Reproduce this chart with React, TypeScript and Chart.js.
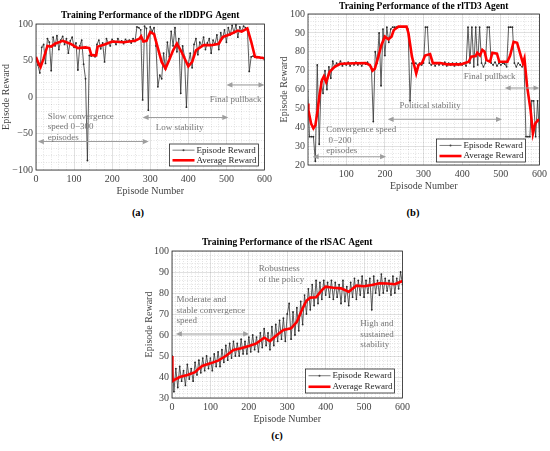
import React, { useEffect, useRef } from "react";
import { Chart, registerables, type ChartConfiguration, type Plugin } from "chart.js";

Chart.register(...registerables);

const SERIF = '"Liberation Serif", "Times New Roman", serif';
const INK = "#262626";
const NOTE = "#777777";
const ARROW = "#9e9e9e";

Chart.defaults.font.family = SERIF;

// raw reward trace is read every 5th episode
const episodes = Array.from({ length: 121 }, (_, i) => i * 5);

const ddpgEpisodeReward = [
  52, 44, 33, 68, 72, 46, 80, 75, 36, 82,
  70, 84, 65, 78, 83, 72, 80, 60, 77, 82,
  68, 74, 37, 70, 78, 45, 25, -87, 57, 56,
  58, 55, 72, 78, 66, 74, 48, 80, 74, 70,
  79, 76, 72, 80, 75, 77, 73, 79, 76, 78,
  74, 80, 76, 96, 95, 92, -4, 97, 94, -18,
  96, 90, 95, 70, 14, 30, 25, 60, 38, 75,
  55, 90, 70, 95, 62, 80, 5, 70, 55, -14,
  45, 60, 40, 72, 80, 58, 75, 70, 82, 65,
  74, 80, 60, 78, 72, 85, 65, 88, 80, 92,
  75, 95, 85, 98, 88, 99, 82, 96, 90, 97,
  95, 93, 35, 55, 56, 55, 54, 55, 53, 54,
  51,
];
const ddpgAvgEpisodes = [
  0, 5, 12, 20, 30, 40, 50, 70, 90, 110, 130, 140, 145, 150, 158, 162, 180, 200, 230, 260,
  272, 276, 282, 290, 300, 310, 320, 330, 340, 350, 360, 370, 380, 390, 400, 410, 420, 440, 460, 480,
  490, 510, 530, 540, 555, 565, 575, 600,
];
const ddpgAvgReward = [
  55, 48, 41, 53, 70, 69, 73, 77, 73, 67, 68, 67, 58, 57, 57, 69, 72, 76, 75, 77,
  80, 83, 76, 77, 89, 86, 67, 48, 39, 51, 64, 73, 64, 53, 42, 48, 64, 71, 71, 73,
  82, 86, 91, 89.5, 94, 76, 55, 53,
];

const td3EpisodeReward = [
  59, 35, 35, 35, 22, 73, 31, 64, 58, 70,
  60, 72, 66, 75, 72, 74, 73, 75, 72.5, 74,
  73, 74.5, 72.5, 74, 73, 74.5, 73, 74, 72.5, 74,
  73.5, 74.5, 73, 72, 43, 80, 74, 90, 62, 92,
  78, 93, 85, 92, 93, 93, 93, 93, 93, 93,
  93, 93, 92, 54, 74, 73, 74, 72.5, 74, 73,
  74, 93, 93, 74, 73, 74, 72.5, 74, 73, 74,
  73, 74.5, 72.5, 74, 73, 74, 72.5, 74, 73, 74,
  73, 74, 72.5, 93, 74, 93, 72, 93, 73, 93,
  74, 72, 74, 93, 93, 74, 73, 74.5, 72.5, 74,
  73, 74, 73.5, 72, 93, 93, 93, 74, 72, 74,
  73, 72, 74, 35, 35, 35, 54, 54, 35, 54,
  35,
];
const td3AvgEpisodes = [
  1, 2, 9, 15, 20, 26, 30, 37, 42, 48, 57, 70, 83, 100, 150, 161, 168, 174, 183, 191,
  200, 209, 217, 223, 235, 256, 261, 270, 278, 281, 287, 296, 304, 317, 324, 343, 361, 396, 417, 423,
  435, 439, 446, 452, 458, 463, 472, 478, 490, 496, 517, 524, 533, 542, 550, 557, 561, 568, 577, 583,
  589, 596, 600,
];
const td3AvgReward = [
  52.6, 49, 42, 39.4, 41, 49, 56, 65, 67, 64, 69.4, 72, 73.5, 73.8, 74, 73, 70, 71, 77.4, 83.6,
  88, 86.6, 88, 91.5, 93.3, 93.3, 89.8, 77.4, 71, 68.5, 73, 74, 78, 78.8, 74, 74, 73.3, 73.3, 74.7, 77.4,
  77.7, 79.5, 78, 81, 80, 75.6, 74.7, 79.5, 79, 74.7, 74.7, 78, 85.3, 84.8, 79, 74, 76.5, 61.5, 49, 36.7,
  42, 43.8, 43.8,
];

const sacEpisodeReward = [
  50, 33, 44, 35, 45, 38, 43, 36, 46, 39,
  44, 38, 47, 41, 48, 42, 49, 43, 50, 44,
  49, 43, 51, 45, 52, 45, 53, 47, 55, 48,
  56, 49, 57, 50, 56, 50, 58, 51, 57, 51,
  59, 52, 60, 53, 59, 52, 61, 54, 63, 55,
  61, 53, 64, 55, 65, 57, 67, 58, 68, 57,
  70, 75, 58, 71, 60, 73, 62, 76, 65, 79,
  70, 82, 72, 84, 74, 86, 75, 85, 77, 86,
  79, 85, 78, 86, 77, 85, 78, 84, 75, 86,
  76, 83, 74, 85, 78, 87, 77, 86, 79, 88,
  78, 86, 80, 87, 72, 88, 80, 86, 79, 89,
  80, 87, 81, 86, 79, 88, 80, 87, 82, 90,
  84,
];
const sacAvgEpisodes = [
  0, 1, 5, 20, 40, 60, 70, 80, 100, 120, 140, 160, 180, 200, 220, 240, 255, 270, 290, 310,
  325, 340, 350, 360, 375, 390, 400, 420, 440, 460, 480, 500, 520, 540, 560, 580, 600,
];
const sacAvgReward = [
  50, 38, 38.5, 40, 41, 42.3, 44, 45.4, 46.5, 47.8, 50, 52.9, 53.7, 54.8, 56, 58.7, 57.1, 59.5, 62.4, 63.2,
  66.3, 72.7, 76.3, 77.8, 78, 81.4, 83, 82.5, 82.2, 80.6, 83.5, 83.2, 83.8, 84.6, 84.5, 84.2, 85.7,
];

const xTicks = [0, 100, 200, 300, 400, 500, 600];
const ddpgYTicks = [-100, -50, 0, 50, 100];
const td3YTicks = [20, 30, 40, 50, 60, 70, 80, 90, 100];
const sacYTicks = [30, 40, 50, 60, 70, 80, 90, 100];

type Note = { lines: string[]; x: number; y: number; align: CanvasTextAlign };
type Arrow = { x1: number; x2: number; y: number };

interface PanelSpec {
  title: string;
  caption: string;
  captionX: number;
  captionY: number;
  left: number;
  top: number;
  width: number;
  height: number;
  padTop: number;
  titleGap: number;
  yWidth: number;
  xMin: number;
  yMin: number;
  yMax: number;
  yTicks: number[];
  xMinor: number;
  yMinor: number;
  epX: number[];
  epY: number[];
  avgX: number[];
  avgY: number[];
  notes: Note[];
  arrows: Arrow[];
  legend: { dr: number; db: number; w: number; h: number };
}

const panels: PanelSpec[] = [
  {
    title: "Training Performance of the rlDDPG Agent",
    caption: "(a)", captionX: 138, captionY: 212,
    left: 0, top: 0, width: 275, height: 197,
    padTop: 24, titleGap: 8, yWidth: 36,
    xMin: 0, yMin: -100, yMax: 100, yTicks: ddpgYTicks, xMinor: 20, yMinor: 10,
    epX: episodes, epY: ddpgEpisodeReward, avgX: ddpgAvgEpisodes, avgY: ddpgAvgReward,
    notes: [
      { lines: ["Slow convergence", "speed 0\u2212300", "episodes"], x: 31, y: -27, align: "left" },
      { lines: ["Low stability"], x: 377, y: -42, align: "center" },
      { lines: ["Final pullback"], x: 524, y: -3, align: "center" },
    ],
    arrows: [
      { x1: 5, x2: 296, y: -61 },
      { x1: 280, x2: 505, y: -28 },
      { x1: 500, x2: 600, y: 16.5 },
    ],
    legend: { dr: 6, db: 4, w: 89, h: 22 },
  },
  {
    title: "Training Performance of the rlTD3 Agent",
    caption: "(b)", captionX: 413, captionY: 212,
    left: 278, top: 0, width: 272, height: 192,
    padTop: 14, titleGap: 7, yWidth: 30,
    xMin: 1, yMin: 20, yMax: 100, yTicks: td3YTicks, xMinor: 20, yMinor: 2,
    epX: episodes, epY: td3EpisodeReward, avgX: td3AvgEpisodes, avgY: td3AvgReward,
    notes: [
      { lines: ["Final pullback"], x: 471, y: 66.6, align: "center" },
      { lines: ["Political stability"], x: 317, y: 51.3, align: "center" },
      { lines: ["Convergence speed", " 0\u2212200", "episodes"], x: 48, y: 38.5, align: "left" },
    ],
    arrows: [
      { x1: 510, x2: 600, y: 60.8 },
      { x1: 207, x2: 503, y: 44.2 },
      { x1: 13, x2: 203, y: 24.4 },
    ],
    legend: { dr: 14, db: 3, w: 89, h: 23 },
  },
  {
    title: "Training Performance of the rlSAC Agent",
    caption: "(c)", captionX: 277, captionY: 435,
    left: 143, top: 231, width: 270, height: 194,
    padTop: 20, titleGap: 8, yWidth: 29,
    xMin: 0, yMin: 30, yMax: 100, yTicks: sacYTicks, xMinor: 10, yMinor: 2,
    epX: episodes, epY: sacEpisodeReward, avgX: sacAvgEpisodes, avgY: sacAvgReward,
    notes: [
      { lines: ["Robustness", "of the policy"], x: 226, y: 91.4, align: "left" },
      { lines: ["Moderate and", "stable convergence", "speed"], x: 12, y: 76.7, align: "left" },
      { lines: ["High and", "sustained", "stability"], x: 490, y: 65.2, align: "left" },
    ],
    arrows: [{ x1: 10, x2: 201, y: 60.5 }],
    legend: { dr: 8, db: 5, w: 89, h: 24 },
  },
];

function fmt(v: number) {
  return v < 0 ? "\u2212" + Math.abs(v) : String(v);
}

function gridValues(min: number, max: number, step: number) {
  const out: number[] = [];
  if (min % step !== 0) out.push(min);
  for (let v = Math.ceil(min / step) * step; v <= max; v += step) out.push(v);
  return out;
}

function drawArrow(ctx: CanvasRenderingContext2D, x1: number, x2: number, y: number) {
  const head = 6;
  const half = 2.6;
  ctx.strokeStyle = ARROW;
  ctx.fillStyle = ARROW;
  ctx.lineWidth = 1.1;
  ctx.beginPath();
  ctx.moveTo(x1 + head - 1, y);
  ctx.lineTo(x2 - head + 1, y);
  ctx.stroke();
  ctx.beginPath();
  ctx.moveTo(x1, y);
  ctx.lineTo(x1 + head, y - half);
  ctx.lineTo(x1 + head, y + half);
  ctx.closePath();
  ctx.fill();
  ctx.beginPath();
  ctx.moveTo(x2, y);
  ctx.lineTo(x2 - head, y - half);
  ctx.lineTo(x2 - head, y + half);
  ctx.closePath();
  ctx.fill();
}

function Panel({ spec }: { spec: PanelSpec }) {
  const canvasRef = useRef<HTMLCanvasElement | null>(null);

  useEffect(() => {
    if (!canvasRef.current) return;
    const s = spec;

    const decor: Plugin<"line"> = {
      id: "decor",
      afterDraw(chart) {
        const { ctx, chartArea: a } = chart;
        const xs = chart.scales.x;
        const ys = chart.scales.y;
        ctx.save();

        // axes box
        ctx.strokeStyle = INK;
        ctx.lineWidth = 0.8;
        ctx.strokeRect(a.left, a.top, a.right - a.left, a.bottom - a.top);

        // title centred over the axes
        ctx.fillStyle = "#000";
        ctx.font = `bold 9.5px ${SERIF}`;
        ctx.textAlign = "center";
        ctx.textBaseline = "middle";
        ctx.fillText(s.title, (a.left + a.right) / 2, a.top - s.titleGap);

        for (const ar of s.arrows) {
          drawArrow(ctx, xs.getPixelForValue(ar.x1), xs.getPixelForValue(ar.x2), ys.getPixelForValue(ar.y));
        }

        ctx.fillStyle = NOTE;
        ctx.font = `9px ${SERIF}`;
        for (const n of s.notes) {
          ctx.textAlign = n.align;
          const px = xs.getPixelForValue(n.x);
          const py = ys.getPixelForValue(n.y);
          n.lines.forEach((line, i) => ctx.fillText(line, px, py + i * 10.3));
        }

        // legend box, lower right inside the axes
        const lg = s.legend;
        const bx = a.right - lg.dr - lg.w;
        const by = a.bottom - lg.db - lg.h;
        ctx.fillStyle = "#fff";
        ctx.fillRect(bx, by, lg.w, lg.h);
        ctx.strokeStyle = INK;
        ctx.lineWidth = 0.8;
        ctx.strokeRect(bx, by, lg.w, lg.h);
        const r1 = by + lg.h * 0.28;
        const r2 = by + lg.h * 0.74;
        ctx.strokeStyle = "#444";
        ctx.lineWidth = 0.7;
        ctx.beginPath();
        ctx.moveTo(bx + 3, r1);
        ctx.lineTo(bx + 25, r1);
        ctx.stroke();
        ctx.fillStyle = "#444";
        ctx.beginPath();
        ctx.arc(bx + 14, r1, 1, 0, Math.PI * 2);
        ctx.fill();
        ctx.strokeStyle = "#ff0000";
        ctx.lineWidth = 2.6;
        ctx.beginPath();
        ctx.moveTo(bx + 3, r2);
        ctx.lineTo(bx + 25, r2);
        ctx.stroke();
        ctx.fillStyle = INK;
        ctx.font = `9px ${SERIF}`;
        ctx.textAlign = "left";
        ctx.fillText(chart.data.datasets[0].label ?? "", bx + 27, r1);
        ctx.fillText(chart.data.datasets[1].label ?? "", bx + 27, r2);
        ctx.restore();
      },
    };

    const xGrid = gridValues(s.xMin, 600, s.xMinor);
    const yGrid = gridValues(s.yMin, s.yMax, s.yMinor);
    const isXMajor = (v: number) => xTicks.includes(v);
    const isYMajor = (v: number) => s.yTicks.includes(v);
    const tickFont = { family: SERIF, size: 10 };
    const titleFont = { family: SERIF, size: 10 };

    const config: ChartConfiguration<"line"> = {
      type: "line",
      data: {
        datasets: [
          {
            label: "Episode Reward",
            data: s.epX.map((x, i) => ({ x, y: s.epY[i] })),
            borderColor: "#333333",
            borderWidth: 0.8,
            pointRadius: 0.9,
            pointBorderWidth: 0,
            pointBackgroundColor: "#2a2a2a",
            tension: 0,
            order: 2,
          },
          {
            label: "Average Reward",
            data: s.avgX.map((x, i) => ({ x, y: s.avgY[i] })),
            borderColor: "#ff0000",
            borderWidth: 2.6,
            pointRadius: 0,
            tension: 0,
            order: 1,
          },
        ],
      },
      options: {
        responsive: true,
        maintainAspectRatio: false,
        animation: false,
        layout: { padding: { left: 0, right: 10, top: s.padTop, bottom: 0 } },
        plugins: {
          legend: { display: false },
          title: { display: false },
          tooltip: { enabled: false },
        },
        scales: {
          x: {
            type: "linear",
            min: s.xMin,
            max: 600,
            afterBuildTicks: (scale) => {
              scale.ticks = xGrid.map((value) => ({ value }));
            },
            afterFit: (scale) => {
              scale.height = 27;
            },
            grid: {
              drawTicks: false,
              lineWidth: 0.6,
              color: (c) => (isXMajor(c.tick.value) ? "rgba(0,0,0,0.2)" : "rgba(0,0,0,0.18)"),
            },
            border: {
              display: false,
              dash: (c) => (isXMajor(c.tick.value) ? [] : [1, 1.5]),
            },
            ticks: {
              autoSkip: false,
              maxRotation: 0,
              padding: 3,
              color: "#444",
              font: tickFont,
              callback: (v) => (isXMajor(Number(v)) ? fmt(Number(v)) : ""),
            },
            title: { display: true, text: "Episode Number", color: "#444", font: titleFont, padding: 0 },
          },
          y: {
            type: "linear",
            min: s.yMin,
            max: s.yMax,
            afterBuildTicks: (scale) => {
              scale.ticks = yGrid.map((value) => ({ value }));
            },
            afterFit: (scale) => {
              scale.width = s.yWidth;
            },
            grid: {
              drawTicks: false,
              lineWidth: 0.6,
              color: (c) => (isYMajor(c.tick.value) ? "rgba(0,0,0,0.2)" : "rgba(0,0,0,0.18)"),
            },
            border: {
              display: false,
              dash: (c) => (isYMajor(c.tick.value) ? [] : [1, 1.5]),
            },
            ticks: {
              autoSkip: false,
              padding: 3,
              color: "#444",
              font: tickFont,
              callback: (v) => (isYMajor(Number(v)) ? fmt(Number(v)) : ""),
            },
            title: { display: true, text: "Episode Reward", color: "#444", font: titleFont, padding: 0 },
          },
        },
      },
      plugins: [decor],
    };

    const chart = new Chart(canvasRef.current, config);
    return () => chart.destroy();
  }, [spec]);

  return (
    <>
      <div
        style={{
          position: "absolute",
          left: spec.left,
          top: spec.top,
          width: spec.width,
          height: spec.height,
        }}
      >
        <canvas ref={canvasRef} aria-label={spec.title} />
      </div>
      <div
        style={{
          position: "absolute",
          left: spec.captionX,
          top: spec.captionY,
          transform: "translate(-50%, -50%)",
          font: `bold 10.5px ${SERIF}`,
          color: "#000",
        }}
      >
        {spec.caption}
      </div>
    </>
  );
}

export default function App() {
  return (
    <div
      style={{
        position: "fixed",
        left: 0,
        top: 0,
        width: 550,
        height: 451,
        background: "#fff",
        overflow: "hidden",
      }}
    >
      {panels.map((p) => (
        <Panel key={p.caption} spec={p} />
      ))}
    </div>
  );
}
